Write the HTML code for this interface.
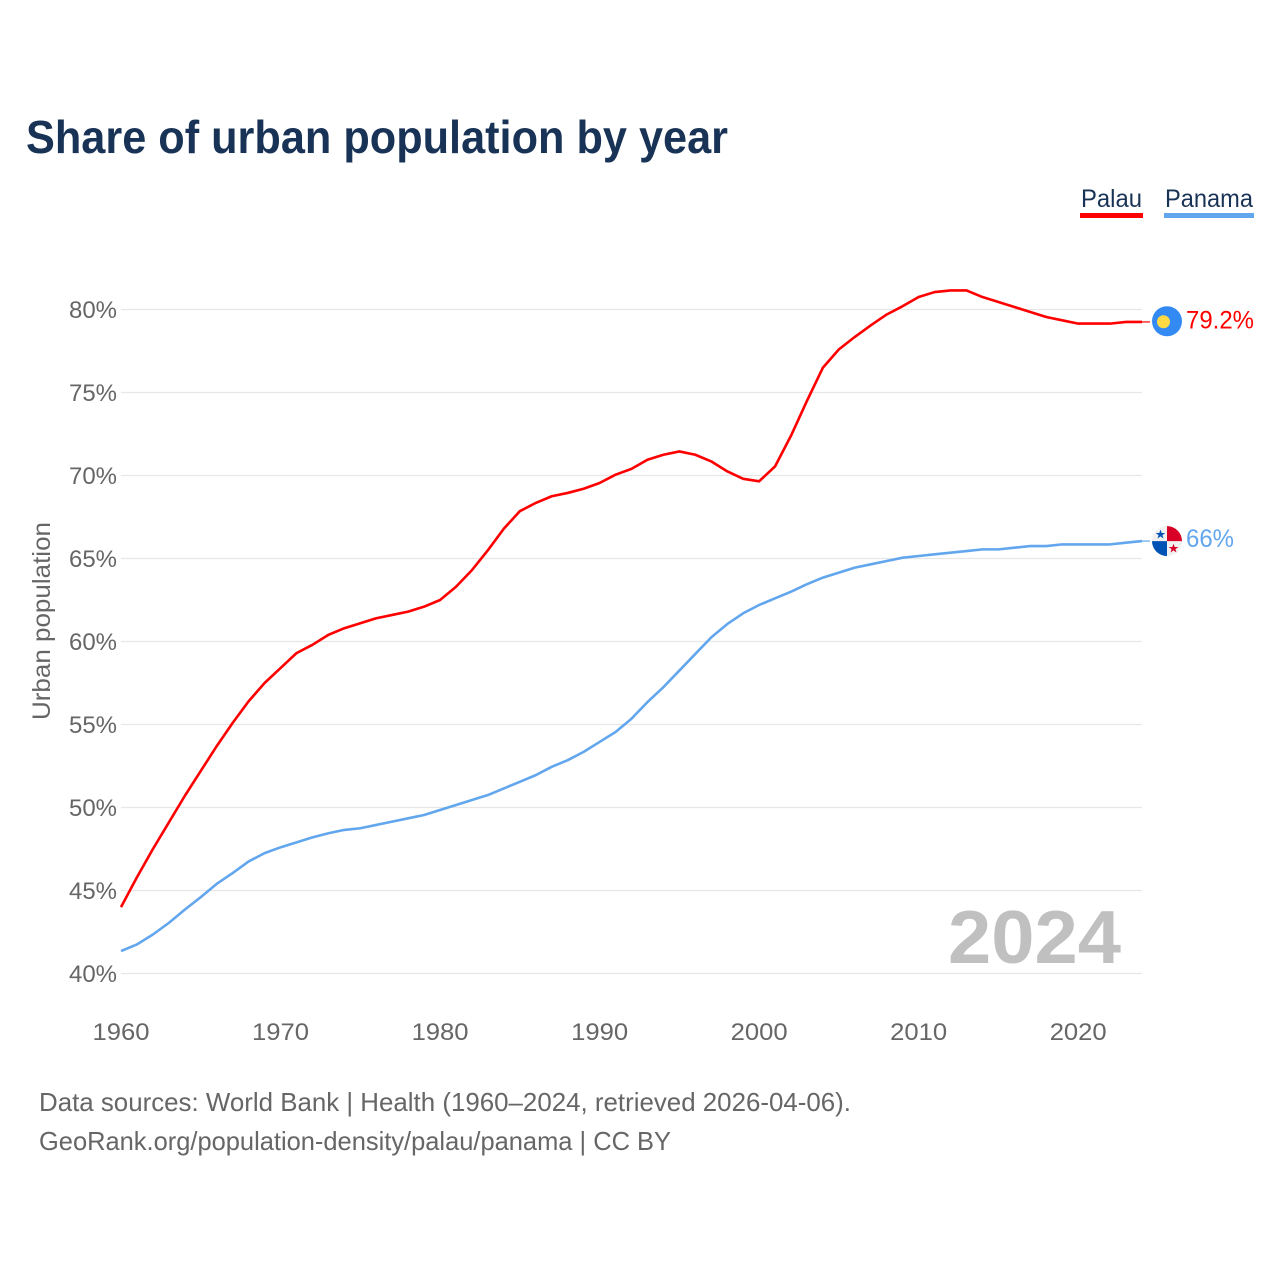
<!DOCTYPE html>
<html lang="en">
<head>
<meta charset="utf-8">
<title>Share of urban population by year</title>
<style>
html,body{margin:0;padding:0;background:#fff}
svg{display:block}
text{font-family:"Liberation Sans",sans-serif}
</style>
</head>
<body>
<svg id="chart" width="1280" height="1280" viewBox="0 0 1280 1280" xmlns="http://www.w3.org/2000/svg">
  <rect width="1280" height="1280" fill="#fff"/>
  <text x="26" y="153" font-size="46" font-weight="700" fill="#193356" textLength="702" lengthAdjust="spacingAndGlyphs">Share of urban population by year</text>

  <g>
    <text x="1081" y="207" font-size="25" fill="#193356" textLength="61" lengthAdjust="spacingAndGlyphs">Palau</text>
    <rect x="1080" y="213" width="63" height="5" fill="#ff0000"/>
  </g>
  <g>
    <text x="1165" y="207" font-size="25" fill="#193356" textLength="88" lengthAdjust="spacingAndGlyphs">Panama</text>
    <rect x="1164" y="213" width="90" height="5" fill="#62a6ee"/>
  </g>

  <g id="grid"></g>
  <g id="yticks"></g>
  <g id="xticks"></g>
  <text transform="translate(50,621) rotate(-90)" text-anchor="middle" font-size="25" fill="#666" textLength="198" lengthAdjust="spacingAndGlyphs">Urban population</text>

  <text x="948" y="963" font-size="75" font-weight="700" fill="#c0c0c0" textLength="173" lengthAdjust="spacingAndGlyphs">2024</text>

  <g id="series"></g>
  <g id="ends"></g>

  <text x="39" y="1111" font-size="26" fill="#666" textLength="812" lengthAdjust="spacingAndGlyphs">Data sources: World Bank | Health (1960–2024, retrieved 2026-04-06).</text>
  <text x="39" y="1150" font-size="26" fill="#666" textLength="632" lengthAdjust="spacingAndGlyphs">GeoRank.org/population-density/palau/panama | CC BY</text>
</svg>
<script>
const years = [1960,1961,1962,1963,1964,1965,1966,1967,1968,1969,1970,1971,1972,1973,1974,1975,1976,1977,1978,1979,1980,1981,1982,1983,1984,1985,1986,1987,1988,1989,1990,1991,1992,1993,1994,1995,1996,1997,1998,1999,2000,2001,2002,2003,2004,2005,2006,2007,2008,2009,2010,2011,2012,2013,2014,2015,2016,2017,2018,2019,2020,2021,2022,2023,2024];
const palauValues = [44.0,45.8,47.5,49.1,50.7,52.2,53.7,55.1,56.4,57.5,58.4,59.3,59.8,60.4,60.8,61.1,61.4,61.6,61.8,62.1,62.5,63.3,64.3,65.5,66.8,67.85,68.35,68.75,68.95,69.2,69.55,70.05,70.4,70.95,71.25,71.45,71.25,70.85,70.25,69.8,69.65,70.55,72.4,74.5,76.5,77.6,78.35,79.05,79.7,80.2,80.75,81.05,81.15,81.15,80.75,80.45,80.15,79.85,79.55,79.35,79.15,79.15,79.15,79.25,79.25];
const panamaValues = [41.35,41.75,42.35,43.05,43.85,44.6,45.4,46.05,46.75,47.25,47.6,47.9,48.2,48.45,48.65,48.75,48.95,49.15,49.35,49.55,49.85,50.15,50.45,50.75,51.15,51.55,51.95,52.45,52.85,53.35,53.95,54.55,55.35,56.35,57.25,58.25,59.25,60.25,61.05,61.7,62.2,62.6,63.0,63.45,63.85,64.15,64.45,64.65,64.85,65.05,65.15,65.25,65.35,65.45,65.55,65.55,65.65,65.75,65.75,65.85,65.85,65.85,65.85,65.95,66.05];
const yTickValues = [40,45,50,55,60,65,70,75,80];
const xTickValues = [1960,1970,1980,1990,2000,2010,2020];
const palauEndLabel = '79.2%';
const panamaEndLabel = '66%';

const NS = 'http://www.w3.org/2000/svg';
const xScale = function (year) { return 121 + (year - 1960) * (1142 - 121) / 64; };
const yScale = function (pct) { return 973.5 - (pct - 40) * (973.5 - 309.5) / 40; };
function make(tag, attrs, parent) {
  const el = document.createElementNS(NS, tag);
  for (const k in attrs) el.setAttribute(k, attrs[k]);
  parent.appendChild(el);
  return el;
}

const grid = document.getElementById('grid');
const yticks = document.getElementById('yticks');
const xticks = document.getElementById('xticks');
const series = document.getElementById('series');
const ends = document.getElementById('ends');

yTickValues.forEach(function (v) {
  const line = make('line', {x1: 121, x2: 1142, y1: yScale(v), y2: yScale(v), stroke: '#e7e7e7', 'stroke-width': 1.3}, grid);
  
  
  const t = make('text', {x: 117, y: yScale(v) + 8.5, 'text-anchor': 'end', 'font-size': 24.5, fill: '#666', textLength: 48, lengthAdjust: 'spacingAndGlyphs'}, yticks);
  t.textContent = v + '%';
  
  
});

xTickValues.forEach(function (v) {
  const t = make('text', {x: xScale(v), y: 1040, 'text-anchor': 'middle', 'font-size': 24.5, fill: '#666', textLength: 57, lengthAdjust: 'spacingAndGlyphs'}, xticks);
  t.textContent = v;
  
  
});

function pathFor(values) {
  return values.map(function (v, i) {
    return (i ? 'L' : 'M') + xScale(years[i]).toFixed(2) + ' ' + yScale(v).toFixed(2);
  }).join('');
}

const palauLine = make('path', {d: pathFor(palauValues), fill: 'none', stroke: '#ff0000', 'stroke-width': 2.6, 'stroke-linejoin': 'round'}, series);


const panamaLine = make('path', {d: pathFor(panamaValues), fill: 'none', stroke: '#62a6ee', 'stroke-width': 2.6, 'stroke-linejoin': 'round'}, series);



/* Palau end marker */
const palauY = yScale(palauValues[palauValues.length - 1]);
const palauLead = make('line', {x1: 1142, x2: 1150, y1: palauY, y2: palauY, stroke: '#ff0000', 'stroke-width': 1.2}, ends);


const palauFlag = make('g', {transform: 'translate(1167,' + (palauY - 0.7) + ')'}, ends);


make('circle', {cx: 0, cy: 0, r: 15, fill: '#338af3'}, palauFlag);
make('circle', {cx: -3.5, cy: 0.5, r: 6.5, fill: '#ffda44'}, palauFlag);
const palauText = make('text', {x: 1186, y: palauY + 6.5, 'font-size': 25, fill: '#ff0000', textLength: 68, lengthAdjust: 'spacingAndGlyphs'}, ends);
palauText.textContent = palauEndLabel;



/* Panama end marker */
const panamaY = yScale(panamaValues[panamaValues.length - 1]);
const panamaLead = make('line', {x1: 1142, x2: 1150, y1: panamaY, y2: panamaY, stroke: '#62a6ee', 'stroke-width': 1.2}, ends);


const panamaFlag = make('g', {transform: 'translate(1167,' + panamaY + ')'}, ends);


make('circle', {cx: 0, cy: 0, r: 15, fill: '#f0f0f0'}, panamaFlag);
make('path', {d: 'M0 0V-15A15 15 0 0 1 15 0Z', fill: '#d80027'}, panamaFlag);
make('path', {d: 'M0 0V15A15 15 0 0 1 -15 0Z', fill: '#0052b4'}, panamaFlag);
make('path', {d: 'M-6.5 -11.5l1.2 3.4h3.6l-2.9 2.1 1.1 3.4-3-2.1-3 2.1 1.1-3.4-2.9-2.1h3.6z', fill: '#0052b4'}, panamaFlag);
make('path', {d: 'M6.5 2.5l1.2 3.4h3.6l-2.9 2.1 1.1 3.4-3-2.1-3 2.1 1.1-3.4-2.9-2.1h3.6z', fill: '#d80027'}, panamaFlag);
const panamaText = make('text', {x: 1186, y: panamaY + 6, 'font-size': 25, fill: '#62a6ee', textLength: 48, lengthAdjust: 'spacingAndGlyphs'}, ends);
panamaText.textContent = panamaEndLabel;


</script>
</body>
</html>
